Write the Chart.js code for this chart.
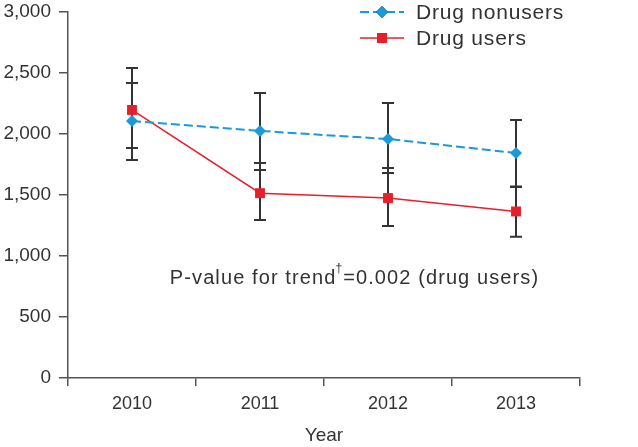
<!DOCTYPE html>
<html>
<head>
<meta charset="utf-8">
<script src="https://cdn.jsdelivr.net/npm/chart.js@4"></script>
<style>
  html,body{margin:0;padding:0;background:#fff;}
  #wrap{width:638px;height:447px;}
</style>
</head>
<body>
<div id="wrap"><canvas id="chart"></canvas></div>
<script>
const years = ["2010","2011","2012","2013"];
const nonusers = [2107, 2025, 1959, 1844];
const nonusersLow = [1787, 1705, 1680, 1566];
const nonusersHigh = [2418, 2336, 2255, 2115];
const users = [2197, 1515, 1475, 1365];
const usersLow = [1885, 1295, 1246, 1158];
const usersHigh = [2541, 1762, 1721, 1570];
const yTicks = [0, 500, 1000, 1500, 2000, 2500, 3000];

const BLUE = "#1a9ad8", RED = "#e5202a", INK = "#333";
const FONT = "'Liberation Sans', Arial, sans-serif";

// error bars drawn under the markers
const errorBars = {
  id: "errorBars",
  beforeDatasetsDraw(chart){
    const {ctx, scales:{x, y}} = chart;
    const sets = [[nonusersLow, nonusersHigh], [usersLow, usersHigh]];
    ctx.save();
    ctx.strokeStyle = INK;
    ctx.lineWidth = 2;
    sets.forEach(([lo, hi]) => {
      years.forEach((yr, i) => {
        const px = x.getPixelForValue(i);
        const y1 = y.getPixelForValue(lo[i]), y2 = y.getPixelForValue(hi[i]);
        ctx.beginPath();
        ctx.moveTo(px, y1); ctx.lineTo(px, y2);
        ctx.moveTo(px - 6, y1); ctx.lineTo(px + 6, y1);
        ctx.moveTo(px - 6, y2); ctx.lineTo(px + 6, y2);
        ctx.stroke();
      });
    });
    ctx.restore();
  }
};

// legend and annotation
const extras = {
  id: "extras",
  afterDraw(chart){
    const ctx = chart.ctx;
    ctx.save();
    // legend
    const rows = [
      {label:"Drug nonusers", color:BLUE, dash:[9,4], width:2, style:"rectRot", r:6, y:12},
      {label:"Drug users", color:RED, dash:[], width:1.5, style:"rect", r:7, y:38}
    ];
    rows.forEach(r => {
      ctx.strokeStyle = r.color;
      ctx.lineWidth = r.width;
      ctx.setLineDash(r.dash);
      ctx.beginPath();
      ctx.moveTo(360, r.y); ctx.lineTo(404, r.y);
      ctx.stroke();
      ctx.setLineDash([]);
      Chart.helpers.drawPoint(ctx, {pointStyle:r.style, radius:r.r, borderWidth:0}, 382, r.y);
      ctx.fillStyle = r.color;
      ctx.fill();
      ctx.fillStyle = INK;
      ctx.font = "21px " + FONT;
      ctx.letterSpacing = "0.8px";
      ctx.textBaseline = "middle";
      ctx.textAlign = "left";
      ctx.fillText(r.label, 416, r.y + 1);
    });
    // annotation
    const parts1 = "P-value for trend", dag = "\u2020", parts2 = "=0.002 (drug users)";
    ctx.letterSpacing = "1.1px";
    ctx.font = "20px " + FONT;
    const w1 = ctx.measureText(parts1).width, w3 = ctx.measureText(parts2).width;
    ctx.font = "12px " + FONT;
    const w2 = ctx.measureText(dag).width;
    let sx = 355 - (w1 + w2 + w3) / 2;
    const ty = 278;
    ctx.fillStyle = INK;
    ctx.textBaseline = "middle";
    ctx.font = "20px " + FONT;
    ctx.fillText(parts1, sx, ty);
    ctx.font = "12px " + FONT;
    ctx.fillText(dag, sx + w1 - 1, ty - 9);
    ctx.font = "20px " + FONT;
    ctx.fillText(parts2, sx + w1 + w2 - 1, ty);
    ctx.restore();
  }
};

new Chart(document.getElementById("chart"), {
  type: "line",
  data: {
    labels: years,
    datasets: [
      { label:"Drug nonusers", data:nonusers, borderColor:BLUE, backgroundColor:BLUE,
        borderWidth:2, borderDash:[9,4], pointStyle:"rectRot", pointRadius:6, pointBorderWidth:0 },
      { label:"Drug users", data:users, borderColor:RED, backgroundColor:RED,
        borderWidth:1.5, pointStyle:"rect", pointRadius:7, pointBorderWidth:0 }
    ]
  },
  options: {
    responsive: true,
    maintainAspectRatio: false,
    animation: false,
    layout: { padding: { top: 12, right: 58, left: 0, bottom: 0 } },
    plugins: { legend: { display:false }, tooltip: { enabled:false } },
    scales: {
      x: {
        offset: true,
        grid: { offset:true, drawOnChartArea:false, drawTicks:true, tickLength:8, color:"#555", lineWidth:1.5 },
        border: { color:"#555", width:1.5 },
        ticks: { color:INK, font:{ family:FONT, size:18 }, padding:7 },
        title: { display:true, text:"Year", color:INK, font:{ family:FONT, size:19 }, padding:{ top:4, bottom:0 } },
        afterFit(s){ s.height = 69; s.paddingLeft = 0; s.paddingRight = 0; }
      },
      y: {
        min: 0, max: 3000,
        afterBuildTicks(s){ s.ticks = yTicks.map(v => ({value:v})); },
        grid: { drawOnChartArea:false, drawTicks:true, tickLength:9, color:"#555", lineWidth:1.5 },
        border: { color:"#555", width:1.5 },
        ticks: { color:INK, font:{ family:FONT, size:19 }, padding:8,
          callback: v => v.toLocaleString("en-US") },
        afterFit(s){ s.width = 68; s.paddingTop = 0; s.paddingBottom = 0; }
      }
    }
  },
  plugins: [errorBars, extras]
});
</script>
</body>
</html>
